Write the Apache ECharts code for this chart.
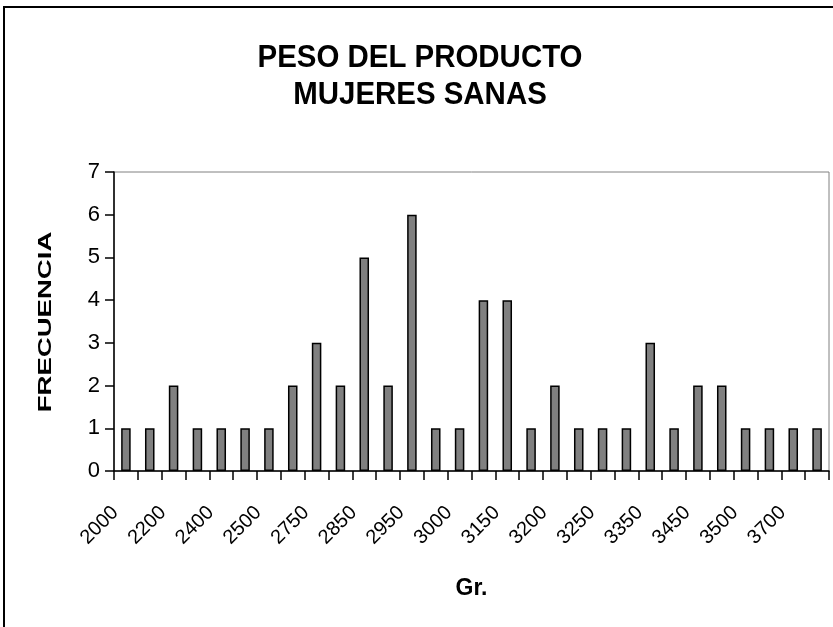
<!DOCTYPE html>
<html>
<head>
<meta charset="utf-8">
<script src="https://cdn.jsdelivr.net/npm/echarts@6/dist/echarts.min.js"></script>
<style>
html,body{margin:0;padding:0;background:#fff;}
#c{width:833px;height:627px;}
</style>
</head>
<body>
<div id="c"></div>
<script>
var categories = ['2000','2100','2200','2300','2400','2450','2500','2700','2750','2800','2850','2900','2950','2980','3000','3100','3150','3180','3200','3230','3250','3300','3350','3400','3450','3480','3500','3600','3700','3800'];
var frecuencia = [1,1,2,1,1,1,1,2,3,2,5,2,6,1,1,4,4,1,2,1,1,1,3,1,2,2,1,1,1,1];
var yTicks = [0,1,2,3,4,5,6,7];
var titleLines = ['PESO DEL PRODUCTO','MUJERES SANAS'];
var yName = 'FRECUENCIA';
var xName = 'Gr.';

var chart = echarts.init(document.getElementById('c'), null, {renderer:'canvas'});
var FONT = '"Liberation Sans", Arial, sans-serif';
chart.setOption({
  animation:false,
  backgroundColor:'#fff',
  graphic:[{
    type:'rect', shape:{x:4, y:7, width:900, height:700},
    style:{fill:'none', stroke:'#000', lineWidth:2}, z:100
  },{
    type:'text', x:420, y:40, scaleX:0.92,
    style:{text:titleLines.join('\n'), font:'bold 32px "Liberation Sans", Arial, sans-serif',
      fill:'#000', align:'center', verticalAlign:'top', lineHeight:37}
  },{
    type:'text', x:46, y:322, rotation:Math.PI/2, scaleX:1.45,
    style:{text:yName, font:'bold 19px "Liberation Sans", Arial, sans-serif',
      fill:'#000', align:'center', verticalAlign:'middle'}
  }],
  grid:{left:114, right:4, top:172, bottom:156, show:true, borderColor:'#808080', borderWidth:1, backgroundColor:'#fff'},
  xAxis:{
    type:'category', data:categories, boundaryGap:true,
    name:xName, nameLocation:'middle', nameGap:106,
    nameTextStyle:{fontFamily:FONT, fontWeight:'bold', fontSize:23, color:'#000'},
    axisLine:{lineStyle:{color:'#000', width:1.5}},
    axisTick:{show:true, interval:0, length:9, inside:false, lineStyle:{color:'#000', width:1.5}},
    axisLabel:{interval:1, rotate:45, fontFamily:FONT, fontSize:20, color:'#000', margin:28, padding:[0,15,30,0]},
    splitLine:{show:false}
  },
  yAxis:{
    type:'value', min:0, max:7, interval:1,
    axisLine:{show:true, lineStyle:{color:'#000', width:1.5}},
    axisTick:{show:true, length:9, lineStyle:{color:'#000', width:1.5}},
    axisLabel:{fontFamily:FONT, fontSize:22, color:'#000', margin:14, padding:[5,0,0,0],
      formatter:function(v){return yTicks.indexOf(v)>=0 ? String(v) : '';}},
    splitLine:{show:false}
  },
  series:[{
    type:'bar', data:frecuencia, barWidth:'40%',
    itemStyle:{color:'#808080', borderColor:'#000', borderWidth:1.5}
  }]
});
</script>
</body>
</html>
